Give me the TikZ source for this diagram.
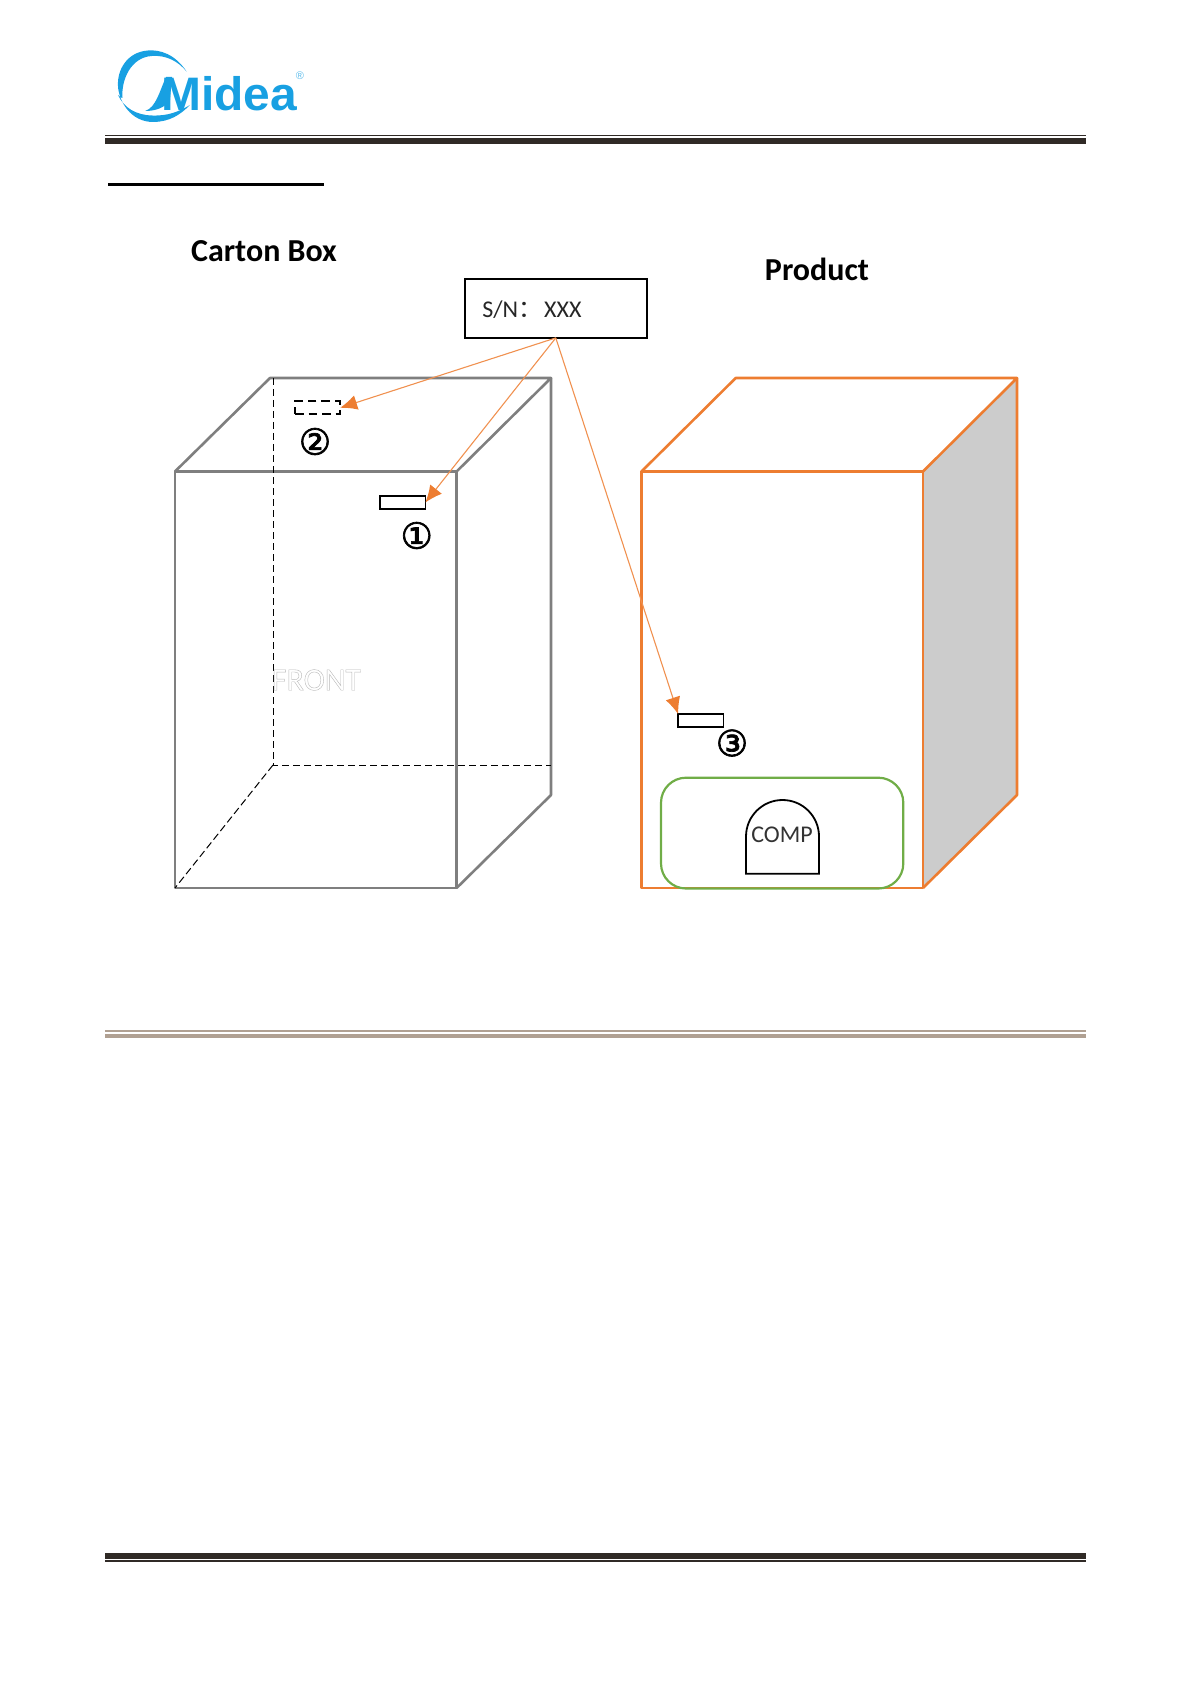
\documentclass[tikz,border=0pt]{standalone}
\usepackage{fontspec}
\setmainfont{Carlito}
\newfontfamily\cjkFont{Noto Sans CJK SC}
\newfontfamily\circledFont{DejaVu Sans}
\newfontfamily\logoFont{Liberation Sans}
\usetikzlibrary{arrows.meta}
\definecolor{midBlue}{RGB}{24,160,226}
\definecolor{ruleDark}{RGB}{48,42,38}
\definecolor{ruleTan}{RGB}{176,160,146}
\definecolor{boxGrey}{RGB}{127,127,127}
\definecolor{prodOrange}{RGB}{237,125,49}
\definecolor{compGreen}{RGB}{112,173,71}
\definecolor{sideGrey}{RGB}{204,204,204}
\newcommand{\StrokedNum}[1]{\special{pdf:code q 2 Tr 0.35 w 0 G 0 g}#1\special{pdf:code Q}}
\tikzset{
  labelBox/.style={draw=black,line width=0.9pt,minimum width=22.6pt,minimum height=6.3pt,inner sep=0pt,outer sep=0pt},
  circledNum/.style={inner sep=0pt,font=\circledFont\fontsize{18}{18}\selectfont},
  titleText/.style={font=\bfseries\fontsize{16}{18}\selectfont},
  feedLine/.style={prodOrange!85,line width=0.55pt,-{Latex[length=8.5pt,width=7.5pt,color=prodOrange]}},
  hiddenEdge/.style={black,line width=0.5pt,dash pattern=on 3.7pt off 1.8pt},
}
\begin{document}
\begin{tikzpicture}[x=0.5pt,y=-0.5pt]
\useasboundingbox (0,0) rectangle (1191,1684);
% header and footer rules
\fill[ruleDark] (105,134.6) rectangle (1086,136);
\fill[ruleDark] (105,137.8) rectangle (1086,144);
\fill[black] (108,182.8) rectangle (324,185.8);
\fill[ruleTan] (105,1030) rectangle (1086,1032.3);
\fill[ruleTan] (105,1034) rectangle (1086,1038);
\fill[ruleDark] (105,1553) rectangle (1086,1559);
\fill[ruleDark] (105,1560) rectangle (1086,1562);
% logo
\fill[midBlue] (186.7,71.7) .. controls (175,54) and (160,49.5) .. (148,50.5)
  .. controls (127,52) and (117,70) .. (118,86)
  .. controls (118.5,100) and (130,122.5) .. (154,122)
  .. controls (170,121.5) and (180,115) .. (190,105)
  .. controls (178,112) and (168,116) .. (152,115.5)
  .. controls (136,115) and (124,108) .. (118,95)
  .. controls (120,97) and (121,98) .. (122.5,98)
  .. controls (121,80) and (131,57) .. (152,56)
  .. controls (166,55) and (178,61) .. (186.7,71.7) -- cycle;
\fill[midBlue] (145,111) .. controls (156,108) and (160,90) .. (166,77) -- (172,77) -- (170,100)
  .. controls (165,108) and (155,111) .. (145,111) -- cycle;
\node[midBlue,font=\logoFont\bfseries\fontsize{23.5}{24}\selectfont,inner sep=0pt,anchor=base west,xscale=1.02] (logoText) at (161,111) {Midea};
\node[midBlue!70,font=\logoFont\fontsize{5.5}{6}\selectfont,inner sep=0pt] (logoMark) at (300,76) {®};
% carton box
\draw[boxGrey,line width=1.3pt,line join=round] (175,471.5) rectangle (456.6,888);
\draw[boxGrey,line width=1.3pt,line join=round] (175,471.5) -- (270,378) -- (551,378) -- (456.6,471.5);
\draw[boxGrey,line width=1.3pt,line join=round] (551,378) -- (551,795) -- (456.6,888);
\draw[hiddenEdge] (273,378) -- (273,765) -- (551,765);
\draw[hiddenEdge] (273,765) -- (175,888);
\node[titleText] (cartonTitle) at (264,251) {Carton Box};
\node[inner sep=0pt,font=\fontsize{16}{17}\selectfont] (frontText) at (316.5,680)
  {\special{pdf:code q 2 Tr 0.2 w 0.72 G 1 g}FRONT\special{pdf:code Q}};
\node[labelBox,line width=1pt,dash pattern=on 4.4pt off 2.4pt] (snTwo) at (317.5,407.8) {};
\node[labelBox] (snOne) at (402.8,502.5) {};
\node[circledNum] (numTwo) at (315,441.5) {\StrokedNum{②}};
\node[circledNum] (numOne) at (416.7,535.5) {\StrokedNum{①}};
% product
\fill[sideGrey] (923,471.5) -- (1017,378) -- (1017,795) -- (923,888) -- cycle;
\draw[prodOrange,line width=1.3pt,line join=round] (641.5,471.5) rectangle (923,888);
\draw[prodOrange,line width=1.3pt,line join=round] (641.5,471.5) -- (735.7,378) -- (1017,378) -- (923,471.5);
\draw[prodOrange,line width=1.3pt,line join=round] (1017,378) -- (1017,795) -- (923,888);
\node[titleText] (productTitle) at (817,269.5) {Product};
\draw[compGreen,line width=1.1pt,rounded corners=12.5pt] (661,777.7) rectangle (903.3,888.5);
\draw[black,line width=0.9pt] (746,873.7) -- (746,836.5) arc[start angle=180,end angle=360,radius=36.5] -- (819,873.7) -- cycle;
\node[inner sep=0pt,font=\fontsize{12}{13}\selectfont,text=black!80] (compText) at (782,834.5) {COMP};
\node[labelBox] (snThree) at (700.8,720.5) {};
\node[circledNum] (numThree) at (732,743) {\StrokedNum{③}};
% serial number label
\node[draw=black,line width=1pt,minimum width=90.8pt,minimum height=29.3pt,inner sep=0pt,outer sep=0pt,fill=white] (snBox) at (555.8,308.6) {};
\node[anchor=west,inner sep=0pt,font=\fontsize{12}{14}\selectfont,text=black!85] (snText) at (482,310) {S/N{\cjkFont ：}\kern1pt XXX};
% feeds
\draw[feedLine] (snBox.south) -- (snTwo.east);
\draw[feedLine] (snBox.south) -- (snOne.east);
\draw[feedLine] (snBox.south) -- (snThree.north west);
\end{tikzpicture}
\end{document}
